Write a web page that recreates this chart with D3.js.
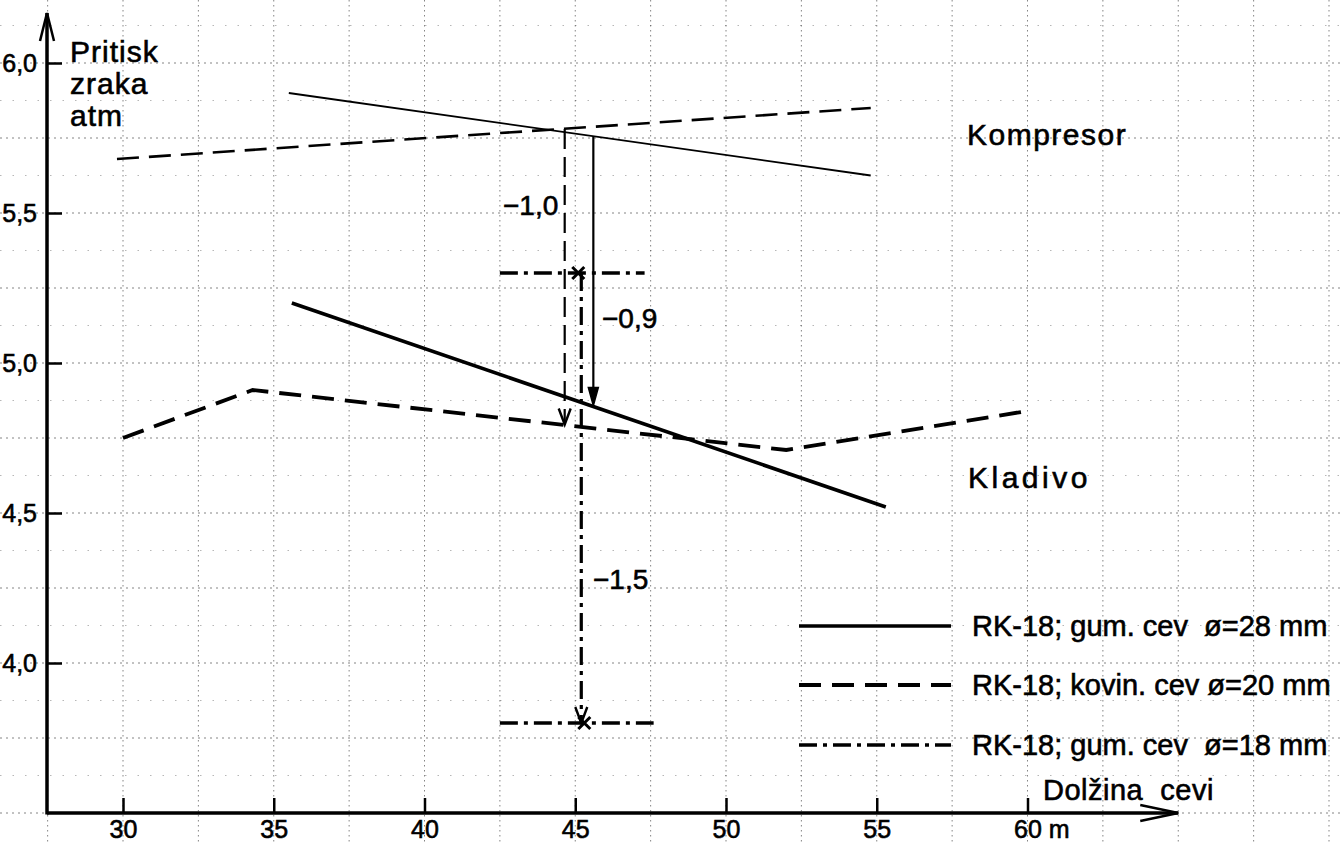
<!DOCTYPE html>
<html><head><meta charset="utf-8">
<script src="https://cdn.jsdelivr.net/npm/d3@7"></script>
<style>
body{margin:0;background:#fff}
svg text{font-family:"Liberation Sans",Arial,sans-serif;fill:#000;stroke:#000;stroke-width:0.6px}
</style>
</head><body>
<svg id="c" width="1341" height="843"></svg>
<script>
// ---------- data ----------
const xTicks = [30, 35, 40, 45, 50, 55, 60];
const yTicks = [4.0, 4.5, 5.0, 5.5, 6.0];

// Kompresor
const kompX28 = [35.5, 54.8];
const kompY28 = [5.90, 5.625];
const kompX20 = [29.8, 54.8];
const kompY20 = [5.68, 5.85];
const kompX18 = [42.5, 47.3];   // horizontal dash-dot mark
const kompY18 = 5.30;
const kompMark18 = 45.1;

// Kladivo
const kladX28 = [35.6, 55.3];
const kladY28 = [5.20, 4.52];
const kladX20 = [30, 34.3, 52, 60];
const kladY20 = [4.75, 4.91, 4.71, 4.84];
const kladX18 = [42.5, 47.6];
const kladY18 = 3.80;
const kladMark18 = 45.3;

// pressure drops
const dropLabels = ["\u22121,0", "\u22120,9", "\u22121,5"];
const dropX = [44.65, 45.6, 45.2];
const dropFrom = [5.78, 5.756, 5.30];
const dropTo = [4.795, 4.858, 3.80];

const legendLabels = ["RK-18; gum. cev  \u00f8=28 mm", "RK-18; kovin. cev \u00f8=20 mm", "RK-18; gum. cev  \u00f8=18 mm"];

// ---------- scales ----------
const svg = d3.select("#c");
const x = d3.scaleLinear().domain([30, 60]).range([123, 1027.5]);
const y = d3.scaleLinear().domain([3.5, 6.0]).range([813, 63]);
const axisX0 = 47;            // y-axis position (px)
const xEnd = x(65), yTop = 13;

// ---------- grid (graph paper) ----------
const grid = svg.append("g");
grid.selectAll(".gv").data(d3.range(25, 72.6, 2.5)).join("line")
  .attr("x1", d => x(d)).attr("x2", d => x(d)).attr("y1", 0).attr("y2", 843)
  .attr("stroke", "#222").attr("stroke-width", 1).attr("stroke-dasharray", "1.5,3.5").attr("opacity", 0.55);
grid.selectAll(".gh").data(d3.range(3.25, 6.3, 0.25)).join("line")
  .attr("y1", d => y(d)).attr("y2", d => y(d)).attr("x1", 0).attr("x2", 1341)
  .attr("stroke", "#222").attr("stroke-width", 1).attr("stroke-dasharray", "2,4").attr("opacity", 0.55);
grid.selectAll(".gh2").data(d3.range(3.375, 6.3, 0.25)).join("line")
  .attr("y1", d => y(d)).attr("y2", d => y(d)).attr("x1", 0).attr("x2", 1341)
  .attr("stroke", "#333").attr("stroke-width", 1).attr("stroke-dasharray", "1.5,11").attr("opacity", 0.35);

// ---------- axes ----------
const gx = svg.append("g").attr("transform", `translate(0,${y(3.5)})`)
  .call(d3.axisBottom(x).tickValues(xTicks).tickSizeInner(-15).tickSizeOuter(0).tickPadding(7)
    .tickFormat(d => d === 60 ? "60 m" : d));
gx.select(".domain").remove();
gx.selectAll(".tick line").attr("stroke", "#000").attr("stroke-width", 2.5);
gx.selectAll(".tick text").style("font-size", "25px").attr("fill", "#000");
gx.selectAll(".tick text").filter(d => d === 60).attr("text-anchor", "start").attr("x", -14);

const gy = svg.append("g").attr("transform", `translate(${axisX0},0)`)
  .call(d3.axisLeft(y).tickValues(yTicks).tickSizeInner(-15).tickSizeOuter(0).tickPadding(10)
    .tickFormat(d => d3.format(".1f")(d).replace(".", ",")));
gy.select(".domain").remove();
gy.selectAll(".tick line").attr("stroke", "#000").attr("stroke-width", 2.5);
gy.selectAll(".tick text").style("font-size", "25px").attr("fill", "#000");

// axis lines with open arrowheads
svg.append("line").attr("x1", axisX0).attr("x2", xEnd).attr("y1", y(3.5)).attr("y2", y(3.5))
  .attr("stroke", "#000").attr("stroke-width", 3.5);
svg.append("line").attr("x1", axisX0).attr("x2", axisX0).attr("y1", y(3.5) + 1.5).attr("y2", yTop)
  .attr("stroke", "#000").attr("stroke-width", 3.5);
svg.append("path").attr("d", `M${xEnd - 38},${y(3.5) - 8}L${xEnd},${y(3.5)}L${xEnd - 38},${y(3.5) + 8}`)
  .attr("fill", "none").attr("stroke", "#000").attr("stroke-width", 2.5);
svg.append("path").attr("d", `M${axisX0 - 7},${yTop + 28}L${axisX0},${yTop}L${axisX0 + 7},${yTop + 28}`)
  .attr("fill", "none").attr("stroke", "#000").attr("stroke-width", 2.5);

// axis titles
const yt = svg.append("text").attr("x", 70).attr("font-size", 30).attr("letter-spacing", 1);
["Pritisk", "zraka", "atm"].forEach((t, i) =>
  yt.append("tspan").attr("x", 70).attr("y", 62 + i * 32).text(t));
svg.append("text").attr("x", 1043).attr("y", 800).attr("font-size", 29).attr("letter-spacing", 0.5)
  .style("white-space", "pre").text("Dol\u017eina  cevi");

// ---------- curves ----------
const line = d3.line().x(d => x(d[0])).y(d => y(d[1]));
const zip = (a, b) => a.map((v, i) => [v, b[i]]);
const dashDot = "18,6,4,6";

svg.append("path").datum(zip(kompX28, kompY28)).attr("d", line)
  .attr("fill", "none").attr("stroke", "#000").attr("stroke-width", 1.8);
svg.append("path").datum(zip(kompX20, kompY20)).attr("d", line)
  .attr("fill", "none").attr("stroke", "#000").attr("stroke-width", 2.6).attr("stroke-dasharray", "22,10");
svg.append("path").datum(zip(kladX28, kladY28)).attr("d", line)
  .attr("fill", "none").attr("stroke", "#000").attr("stroke-width", 3.6);
svg.append("path").datum(zip(kladX20, kladY20)).attr("d", line)
  .attr("fill", "none").attr("stroke", "#000").attr("stroke-width", 3.8).attr("stroke-dasharray", "22,11");

// 18 mm: horizontal dash-dot marks
[[kompX18, kompY18], [kladX18, kladY18]].forEach(([xs, yv]) => {
  svg.append("path").datum(xs.map(v => [v, yv])).attr("d", line)
    .attr("fill", "none").attr("stroke", "#000").attr("stroke-width", 3.4).attr("stroke-dasharray", dashDot);
});
// x markers
[[kompMark18, kompY18], [kladMark18, kladY18]].forEach(([xv, yv]) => {
  const cx = x(xv), cy = y(yv), s = 6;
  svg.append("path").attr("d", `M${cx - s},${cy - s}L${cx + s},${cy + s}M${cx + s},${cy - s}L${cx - s},${cy + s}`)
    .attr("stroke", "#000").attr("stroke-width", 3);
});

// ---------- pressure-drop arrows ----------
const dropStyles = [
  {w: 2.2, dash: "20,8", filled: false},
  {w: 2.2, dash: null, filled: true},
  {w: 3.2, dash: dashDot, filled: false}
];
dropX.forEach((xv, i) => {
  const st = dropStyles[i];
  const cx = x(xv), y0 = y(dropFrom[i]), y1 = y(dropTo[i]);
  const p = svg.append("line").attr("x1", cx).attr("x2", cx).attr("y1", y0).attr("y2", y1 - (st.filled ? 10 : 0))
    .attr("stroke", "#000").attr("stroke-width", st.w);
  if (st.dash) p.attr("stroke-dasharray", st.dash);
  if (st.filled) {
    svg.append("path").attr("d", `M${cx - 5},${y1 - 18}L${cx},${y1}L${cx + 5},${y1 - 18}Z`)
      .attr("fill", "#000").attr("stroke", "#000").attr("stroke-width", 1.5);
  } else {
    svg.append("path").attr("d", `M${cx - 6},${y1 - 16}L${cx},${y1}L${cx + 6},${y1 - 16}`)
      .attr("fill", "none").attr("stroke", "#000").attr("stroke-width", 2.4);
  }
});
const dropLabelPos = [[503, 215], [602, 328], [593, 589]];
dropLabels.forEach((t, i) => {
  svg.append("text").attr("x", dropLabelPos[i][0]).attr("y", dropLabelPos[i][1])
    .attr("font-size", 28).text(t);
});

// ---------- curve labels ----------
svg.append("text").attr("x", 967).attr("y", 145).attr("font-size", 30).attr("letter-spacing", 1.5).text("Kompresor");
svg.append("text").attr("x", 968).attr("y", 488).attr("font-size", 30).attr("letter-spacing", 3.5).text("Kladivo");

// ---------- legend ----------
const legY = [626, 685, 745];
const legStyles = [
  {w: 3.6, dash: null},
  {w: 3.8, dash: "22,11"},
  {w: 3.4, dash: dashDot}
];
legendLabels.forEach((t, i) => {
  const l = svg.append("line").attr("x1", 799).attr("x2", 951).attr("y1", legY[i]).attr("y2", legY[i])
    .attr("stroke", "#000").attr("stroke-width", legStyles[i].w);
  if (legStyles[i].dash) l.attr("stroke-dasharray", legStyles[i].dash);
  svg.append("text").attr("x", 972).attr("y", legY[i] + 10).attr("font-size", 29)
    .style("white-space", "pre").text(t);
});
</script>
</body></html>
